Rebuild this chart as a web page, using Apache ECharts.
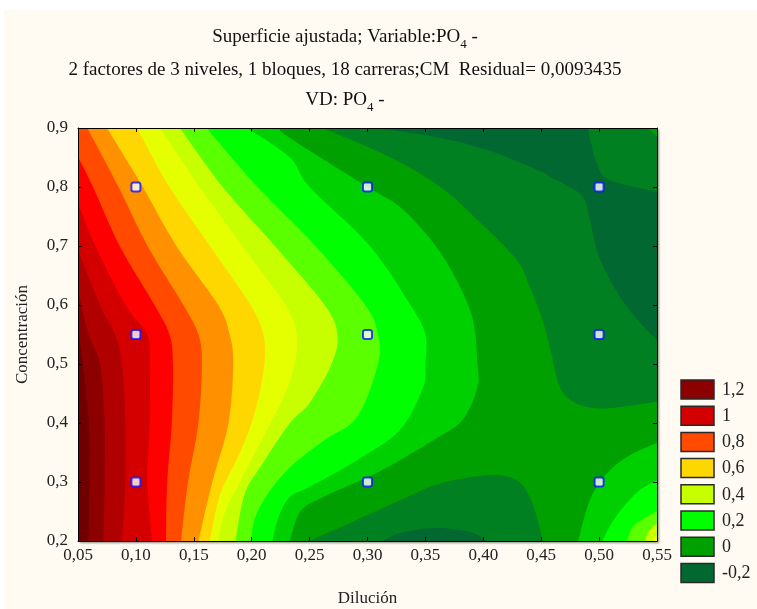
<!DOCTYPE html>
<html>
<head>
<meta charset="utf-8">
<script src="https://cdn.jsdelivr.net/npm/echarts@6/dist/echarts.min.js"></script>
<style>
  html, body { margin: 0; background: #ffffff; }
  #main { position: absolute; left: 4px; top: 10px; width: 753px; height: 599px; background: #fffbf2; }
</style>
</head>
<body>
<div id="main"></div>
<script>
  // puntos del diseño (Dilución, Concentración)
  const designX = [0.1, 0.1, 0.1, 0.3, 0.3, 0.3, 0.5, 0.5, 0.5]
  const designY = [0.3, 0.55, 0.8, 0.3, 0.55, 0.8, 0.3, 0.55, 0.8]

  // colores de las bandas, de la mas baja (-0,2) a la mas alta
  const bandColors = ['#006830', '#008020', '#00a000', '#00d000', '#00ff00', '#5aff00', '#c8ff00', '#e6ff00',
    '#ffd700', '#ff9000', '#ff4a00', '#ff0000', '#d40000', '#b00000', '#8c0000', '#700000']
  const legendLabels = ['1,2', '1', '0,8', '0,6', '0,4', '0,2', '0', '-0,2']
  const legendBands = [14, 12, 10, 8, 6, 4, 2, 0]

  // curvas de nivel [x, y]
  const line3 = [[0.224, 0.9], [0.233, 0.883], [0.300, 0.8], [0.328, 0.766], [0.357, 0.705], [0.377, 0.642], [0.391, 0.575], [0.395, 0.5], [0.395, 0.461], [0.382, 0.405], [0.357, 0.371], [0.328, 0.337], [0.300, 0.308], [0.262, 0.275], [0.242, 0.25], [0.233, 0.2]]
  const line4 = [[0.196, 0.9], [0.233, 0.85], [0.250, 0.8], [0.302, 0.7], [0.337, 0.6], [0.350, 0.55], [0.350, 0.5], [0.348, 0.46], [0.328, 0.388], [0.291, 0.337], [0.250, 0.292], [0.233, 0.275], [0.223, 0.24], [0.218, 0.2]]
  const line5 = [[0.161, 0.9], [0.205, 0.8], [0.255, 0.7], [0.298, 0.6], [0.309, 0.55], [0.309, 0.5], [0.291, 0.41], [0.262, 0.37], [0.233, 0.325], [0.214, 0.28], [0.203, 0.24], [0.199, 0.2]]
  const line6 = [[0.138, 0.9], [0.175, 0.8], [0.220, 0.7], [0.263, 0.6], [0.274, 0.55], [0.269, 0.5], [0.250, 0.434], [0.233, 0.4], [0.209, 0.33], [0.194, 0.28], [0.186, 0.2]]
  const line7 = [[0.121, 0.9], [0.155, 0.8], [0.192, 0.7], [0.229, 0.6], [0.239, 0.55], [0.237, 0.5], [0.229, 0.45], [0.211, 0.38], [0.190, 0.3], [0.177, 0.25], [0.171, 0.2]]
  const line8 = [[0.101, 0.9], [0.129, 0.8], [0.164, 0.7], [0.199, 0.6], [0.210, 0.55], [0.211, 0.5], [0.203, 0.42], [0.190, 0.35], [0.173, 0.28], [0.164, 0.2]]
  const line9 = [[0.075, 0.9], [0.106, 0.8], [0.135, 0.7], [0.171, 0.6], [0.181, 0.55], [0.184, 0.5], [0.180, 0.4], [0.166, 0.3], [0.154, 0.2]]
  const line10 = [[0.058, 0.9], [0.085, 0.8], [0.110, 0.7], [0.141, 0.6], [0.154, 0.55], [0.157, 0.5], [0.154, 0.4], [0.145, 0.3], [0.139, 0.2]]
  const line11 = [[0.05, 0.851], [0.063, 0.8], [0.086, 0.7], [0.116, 0.6], [0.129, 0.55], [0.132, 0.5], [0.131, 0.4], [0.127, 0.3], [0.126, 0.2]]
  const line12 = [[0.05, 0.773], [0.065, 0.7], [0.091, 0.6], [0.110, 0.55], [0.112, 0.5], [0.112, 0.4], [0.110, 0.3], [0.114, 0.2]]
  const line13 = [[0.05, 0.693], [0.069, 0.6], [0.082, 0.55], [0.088, 0.5], [0.091, 0.4], [0.091, 0.3], [0.088, 0.2]]
  const line14 = [[0.05, 0.625], [0.059, 0.55], [0.069, 0.5], [0.073, 0.4], [0.073, 0.3], [0.072, 0.2]]
  const line15 = [[0.05, 0.56], [0.056, 0.47], [0.060, 0.38], [0.060, 0.3], [0.059, 0.2]]

  const topLow1 = [[0.261, 0.9], [0.319, 0.851], [0.363, 0.8], [0.395, 0.744], [0.429, 0.676], [0.440, 0.631], [0.451, 0.575], [0.458, 0.524], [0.469, 0.451], [0.498, 0.425], [0.55, 0.436]]
  const topLow0 = [[0.309, 0.9], [0.363, 0.883], [0.406, 0.861], [0.449, 0.827], [0.458, 0.817], [0.485, 0.786], [0.492, 0.744], [0.501, 0.676], [0.524, 0.597], [0.55, 0.54]]
  const islandUp1 = [[0.490, 0.9], [0.498, 0.841], [0.509, 0.812], [0.55, 0.792]]
  const cornerUp2 = [[0.542, 0.9], [0.55, 0.885]]
  const bottomLow1 = [[0.250, 0.2], [0.291, 0.236], [0.328, 0.269], [0.363, 0.298], [0.406, 0.312], [0.429, 0.303], [0.440, 0.275], [0.447, 0.236], [0.451, 0.2]]
  const bottomLow0 = [[0.313, 0.2], [0.328, 0.213], [0.358, 0.222], [0.389, 0.215], [0.403, 0.2]]
  const right3 = [[0.482, 0.2], [0.490, 0.258], [0.498, 0.292], [0.512, 0.325], [0.529, 0.348], [0.55, 0.366]]
  const right4 = [[0.503, 0.2], [0.509, 0.224], [0.521, 0.258], [0.535, 0.286], [0.55, 0.303]]
  const right5 = [[0.524, 0.2], [0.529, 0.224], [0.537, 0.236], [0.55, 0.251]]
  const right6 = [[0.540, 0.2], [0.542, 0.214], [0.55, 0.231]]
  const right7 = [[0.546, 0.2], [0.55, 0.214]]

  const TL = [0.05, 0.9], TR = [0.55, 0.9], BR = [0.55, 0.2], BL = [0.05, 0.2]

  // orden de pintado: de abajo hacia arriba
  const regions = [
    { band: 2, line: [], close: [TL, TR, BR, BL] },
    { band: 1, line: topLow1, close: [TR] },
    { band: 1, line: bottomLow1, close: [] },
    { band: 0, line: topLow0, close: [TR] },
    { band: 0, line: bottomLow0, close: [] },
    { band: 1, line: islandUp1, close: [TR] },
    { band: 2, line: cornerUp2, close: [TR] },
    { band: 3, line: line3, close: [BL, TL] },
    { band: 4, line: line4, close: [BL, TL] },
    { band: 5, line: line5, close: [BL, TL] },
    { band: 6, line: line6, close: [BL, TL] },
    { band: 7, line: line7, close: [BL, TL] },
    { band: 8, line: line8, close: [BL, TL] },
    { band: 9, line: line9, close: [BL, TL] },
    { band: 10, line: line10, close: [BL, TL] },
    { band: 11, line: line11, close: [BL] },
    { band: 12, line: line12, close: [BL] },
    { band: 13, line: line13, close: [BL] },
    { band: 14, line: line14, close: [BL] },
    { band: 15, line: line15, close: [BL] },
    { band: 3, line: right3, close: [BR] },
    { band: 4, line: right4, close: [BR] },
    { band: 5, line: right5, close: [BR] },
    { band: 6, line: right6, close: [BR] },
    { band: 7, line: right7, close: [BR] }
  ]

  const serif = 'Liberation Serif'

  // curva suave (catmull-rom) por los puntos en pixeles
  function buildPath (pts, close) {
    let d = ''
    if (pts.length) {
      d = 'M' + pts[0][0] + ',' + pts[0][1]
      for (let i = 0; i < pts.length - 1; i++) {
        const p0 = pts[i - 1] || pts[i]
        const p1 = pts[i]
        const p2 = pts[i + 1]
        const p3 = pts[i + 2] || p2
        const c1x = p1[0] + (p2[0] - p0[0]) / 6
        const c1y = p1[1] + (p2[1] - p0[1]) / 6
        const c2x = p2[0] - (p3[0] - p1[0]) / 6
        const c2y = p2[1] - (p3[1] - p1[1]) / 6
        d += ' C' + c1x + ',' + c1y + ' ' + c2x + ',' + c2y + ' ' + p2[0] + ',' + p2[1]
      }
      close.forEach(c => { d += ' L' + c[0] + ',' + c[1] })
    } else {
      d = 'M' + close[0][0] + ',' + close[0][1]
      close.slice(1).forEach(c => { d += ' L' + c[0] + ',' + c[1] })
    }
    return d + ' Z'
  }

  function renderRegion (params, api) {
    const r = regions[params.dataIndex]
    const pts = r.line.map(p => api.coord(p))
    const close = r.close.map(p => api.coord(p))
    return {
      type: 'path',
      shape: { pathData: buildPath(pts, close) },
      style: { fill: bandColors[r.band] }
    }
  }

  const axisFont = { fontFamily: serif, fontSize: 17, color: '#222' }
  const tickStyle = { inside: true, length: 4, lineStyle: { color: '#000' } }
  const lineStyle = { show: true, lineStyle: { color: '#000', width: 1 } }

  const legendGraphics = []
  legendLabels.forEach((lab, i) => {
    const y = 370 + i * 26.2
    legendGraphics.push({
      type: 'rect',
      shape: { x: 677, y: y, width: 33, height: 19 },
      style: { fill: bandColors[legendBands[i]], stroke: '#2a2a2a', lineWidth: 1.5 }
    })
    legendGraphics.push({
      type: 'text',
      x: 718,
      y: y + 10,
      style: { text: lab, fontFamily: serif, fontSize: 18, fill: '#222', verticalAlign: 'middle' }
    })
  })

  const subRich = {
    s: { fontFamily: serif, fontSize: 13, lineHeight: 28, verticalAlign: 'bottom', fill: '#111' }
  }
  const titleStyle = { fontFamily: serif, fontSize: 19, fill: '#111', align: 'center', verticalAlign: 'middle' }

  const chart = echarts.init(document.getElementById('main'))
  chart.setOption({
    animation: false,
    grid: {
      left: 74, top: 118, width: 579, height: 413, outerBoundsMode: 'none', containLabel: false,
      show: true, backgroundColor: '#00a000', borderWidth: 0,
      shadowColor: 'rgba(0,0,0,0.45)', shadowBlur: 2, shadowOffsetX: 2, shadowOffsetY: 2
    },
    xAxis: [
      {
        type: 'value', min: 0.05, max: 0.55, interval: 0.05, z: 10,
        name: 'Dilución', nameLocation: 'middle', nameGap: 49,
        nameTextStyle: { fontFamily: serif, fontSize: 17, color: '#222' },
        axisLine: lineStyle, axisTick: tickStyle, splitLine: { show: false },
        axisLabel: Object.assign({ margin: 6, formatter: v => v.toFixed(2).replace('.', ',') }, axisFont)
      },
      {
        type: 'value', position: 'top', min: 0.05, max: 0.55, interval: 0.05, z: 10,
        axisLine: lineStyle, axisTick: tickStyle, splitLine: { show: false }, axisLabel: { show: false }
      }
    ],
    yAxis: [
      {
        type: 'value', min: 0.2, max: 0.9, interval: 0.1, z: 10,
        name: 'Concentración', nameLocation: 'middle', nameGap: 47,
        nameTextStyle: { fontFamily: serif, fontSize: 17, color: '#222' },
        axisLine: lineStyle, axisTick: tickStyle, splitLine: { show: false },
        axisLabel: Object.assign({ margin: 10, formatter: v => v.toFixed(1).replace('.', ',') }, axisFont)
      },
      {
        type: 'value', position: 'right', min: 0.2, max: 0.9, interval: 0.1, z: 10,
        axisLine: lineStyle, axisTick: tickStyle, splitLine: { show: false }, axisLabel: { show: false }
      }
    ],
    graphic: [
      { type: 'text', x: 341, y: 27, style: Object.assign({ text: 'Superficie ajustada; Variable:PO{s|4} -', rich: subRich }, titleStyle) },
      { type: 'text', x: 341, y: 60, style: Object.assign({ text: '2 factores de 3 niveles, 1 bloques, 18 carreras;CM  Residual= 0,0093435' }, titleStyle) },
      { type: 'text', x: 341, y: 90, style: Object.assign({ text: 'VD: PO{s|4} -', rich: subRich }, titleStyle) }
    ].concat(legendGraphics),
    series: [
      {
        type: 'custom',
        coordinateSystem: 'cartesian2d',
        clip: true,
        silent: true,
        z: 1,
        data: regions.map((r, i) => [0.3, 0.5, i]),
        encode: { x: 0, y: 1 },
        renderItem: renderRegion
      },
      {
        type: 'scatter',
        symbol: 'roundRect',
        symbolSize: 9,
        z: 5,
        silent: true,
        itemStyle: { color: '#ffffff', borderColor: '#0a14ff', borderWidth: 2 },
        data: designX.map((x, i) => [x, designY[i]])
      }
    ]
  })
</script>
</body>
</html>
